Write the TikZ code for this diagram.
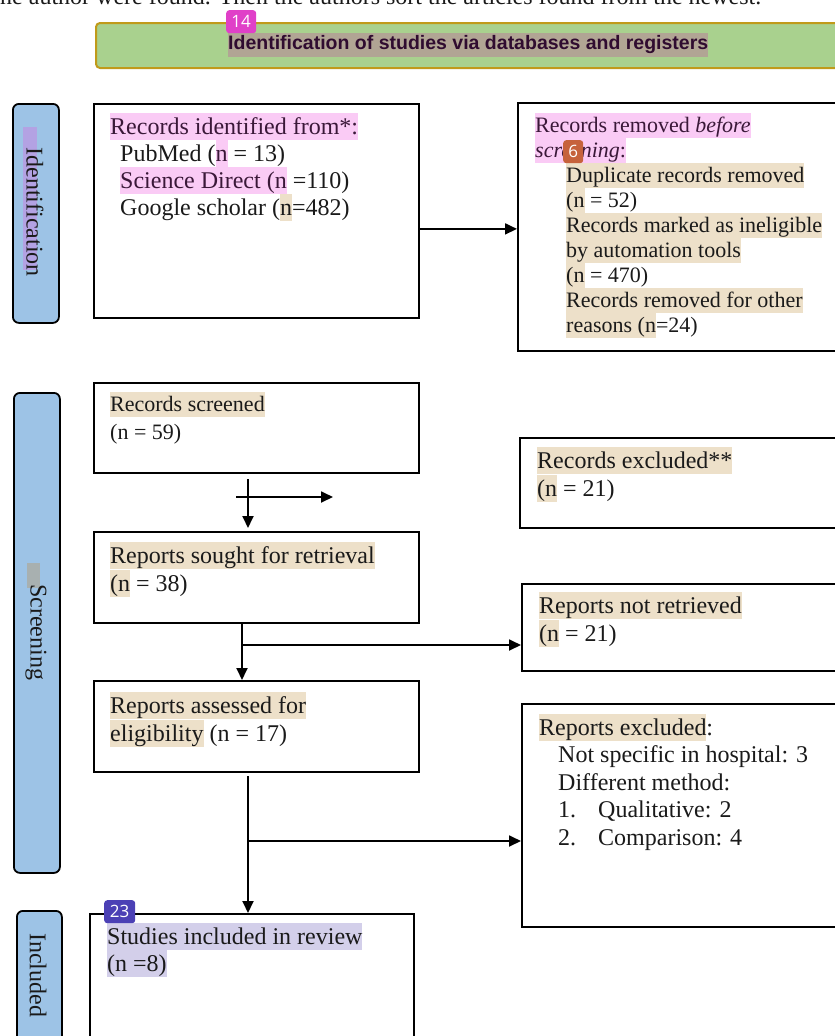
\documentclass[tikz,border=0pt]{standalone}
\usepackage{fontspec}
\setmainfont{Liberation Serif}
\newfontfamily\hdfont{Liberation Sans}
\newfontfamily\bdgfont{Open Sans}
\usetikzlibrary{arrows.meta,calc}
\definecolor{hlpink}{HTML}{FACBF5}
\definecolor{hltan}{HTML}{EDE0C9}
\definecolor{hllav}{HTML}{D3CFEA}
\definecolor{hlpurple}{HTML}{B3A2E3}
\definecolor{hlgray}{HTML}{A8B0B0}
\definecolor{hdgreen}{HTML}{A9D18E}
\definecolor{hdgold}{HTML}{C09A1A}
\definecolor{hdhl}{HTML}{B1A594}
\definecolor{hdtext}{HTML}{300C30}
\definecolor{sideblue}{HTML}{9DC3E6}
\definecolor{bdgmag}{HTML}{E040C8}
\definecolor{bdgorange}{HTML}{C6623C}
\definecolor{bdgindigo}{HTML}{4B40B5}
\definecolor{txt}{HTML}{1A1A1A}
\definecolor{pinktxt}{HTML}{3A1838}
\newcommand\ls{\rule[-0.25em]{0pt}{1.125em}}
\newcommand\hlx[2]{{\setlength{\fboxsep}{0pt}\colorbox{#1}{\ls#2}}}
\newcommand\hlp[1]{{\setlength{\fboxsep}{0pt}\colorbox{hlpink}{\ls\color{pinktxt}#1}}}
\begin{document}
\begin{tikzpicture}[x=1pt,y=-1pt,
  box/.style={draw=black, line width=1.8pt, inner sep=0pt, anchor=north west, fill=white},
  sidebar/.style={draw=black, line width=1.8pt, inner sep=0pt, anchor=north west, fill=sideblue, rounded corners=6pt},
  txtbox/.style={anchor=north west, inner sep=0pt, align=left, text=txt},
  big/.style={font=\fontsize{24}{#1}\selectfont},
  small/.style={font=\fontsize{22}{#1}\selectfont},
  sidetxt/.style={rotate=-90, inner sep=0pt, text=txt, font=\fontsize{24}{27}\selectfont},
  badge/.style={anchor=north west, inner sep=0pt, rounded corners=3pt, text=white, font=\bdgfont\fontsize{17}{17}\selectfont},
  arr/.style={line width=1.8pt, -{Triangle[length=12pt,width=11pt]}},
  ln/.style={line width=1.8pt}
]
\useasboundingbox (0,0) rectangle (835,1036);
\clip (0,0) rectangle (835,1036);

% cut-off line of text at top
\node[anchor=base west, inner sep=0pt, text=txt, font=\fontsize{24}{27}\selectfont] (toptxt) at (0,5)
  {ne author were found. Then the authors sort the articles found from the newest.};

% header
\node[anchor=north west, draw=hdgold, line width=2pt, fill=hdgreen, rounded corners=4pt,
  minimum width=770, minimum height=45, inner sep=0pt] (hdr) at (95,22) {};
\node[anchor=west, inner sep=0pt, fill=hdhl, minimum height=24, text=hdtext,
  font=\hdfont\bfseries\fontsize{19.5}{24}\selectfont] (hdrtxt) at (228,45)
  {Identification of studies via databases and registers};
\node[badge, fill=bdgmag, minimum width=30, minimum height=23] (bdgA) at (226,10) {14};

% side bars
\node[sidebar, minimum width=46, minimum height=219] (sideA) at (12,103) {};
\fill[hlpurple] (23,127) rectangle (37,270);
\node[sidetxt] (sideAtxt) at (35,212) {Identification};
\node[sidebar, minimum width=46, minimum height=480] (sideB) at (13,392) {};
\fill[hlgray] (27,563) rectangle (40,588);
\node[sidetxt] (sideBtxt) at (36,632) {Screening};
\node[sidebar, minimum width=45, minimum height=160] (sideC) at (16,910) {};
\node[sidetxt] (sideCtxt) at (38,975) {Included};

% boxes
\node[box, minimum width=325, minimum height=214] (b1) at (93,103) {};
\node[box, minimum width=330, minimum height=248] (b2) at (517,102) {};
\node[box, minimum width=325, minimum height=90] (b3) at (93,382) {};
\node[box, minimum width=330, minimum height=90] (b4) at (519,437) {};
\node[box, minimum width=325, minimum height=91] (b5) at (93,531) {};
\node[box, minimum width=330, minimum height=87] (b6) at (521,583) {};
\node[box, minimum width=325, minimum height=91] (b7) at (93,680) {};
\node[box, minimum width=330, minimum height=223] (b8) at (521,703) {};
\node[box, minimum width=324, minimum height=160] (b9) at (89,913) {};

% texts
\node[txtbox, big=27] (t1) at (110,113) {%
  \hlp{Records identified from*:}\\
  \ls\hspace*{10pt}PubMed (\hlp{n} = 13)\\
  \ls\hspace*{10pt}\hlp{Science Direct (n} =110)\\
  \ls\hspace*{10pt}Google scholar (\hlx{hltan}{n}=482)};

\node[txtbox, small=25] (t2) at (535,113) {%
  \hlp{Records removed \textit{before}}\\
  \hlp{\textit{screening}:}\\
  \ls\hspace*{31pt}\hlx{hltan}{Duplicate records removed}\\
  \ls\hspace*{31pt}\hlx{hltan}{(n} = 52)\\
  \ls\hspace*{31pt}\hlx{hltan}{Records marked as ineligible}\\
  \ls\hspace*{31pt}\hlx{hltan}{by automation tools}\\
  \ls\hspace*{31pt}\hlx{hltan}{(n} = 470)\\
  \ls\hspace*{31pt}\hlx{hltan}{Records removed for other}\\
  \ls\hspace*{31pt}\hlx{hltan}{reasons (n}=24)};
\node[badge, fill=bdgorange, minimum width=20, minimum height=23] (bdgB) at (563,140) {6};

\node[txtbox, small=28] (t3) at (110,392) {%
  \hlx{hltan}{Records screened}\\
  \ls(n = 59)};

\node[txtbox, big=28] (t4) at (537,447) {%
  \hlx{hltan}{Records excluded**}\\
  \hlx{hltan}{(n} = 21)};

\node[txtbox, big=28] (t5) at (110,542) {%
  \hlx{hltan}{Reports sought for retrieval}\\
  \hlx{hltan}{(n} = 38)};

\node[txtbox, big=28] (t6) at (539,592) {%
  \hlx{hltan}{Reports not retrieved}\\
  \hlx{hltan}{(n} = 21)};

\node[txtbox, big=28] (t7) at (110,692) {%
  \hlx{hltan}{Reports assessed for}\\
  \hlx{hltan}{eligibility} (n = 17)};

\node[txtbox, big=27.5] (t8) at (539,714) {%
  \hlx{hltan}{Reports excluded}:\\
  \ls\hspace*{19pt}Not specific in hospital: 3\\
  \ls\hspace*{19pt}Different method:\\
  \ls\hspace*{19pt}\makebox[40pt][l]{1.}Qualitative: 2\\
  \ls\hspace*{19pt}\makebox[40pt][l]{2.}Comparison: 4};

\node[txtbox, big=27] (t9) at (107,923) {%
  \hlx{hllav}{Studies included in review}\\
  \hlx{hllav}{(n =8)}};
\node[badge, fill=bdgindigo, minimum width=31, minimum height=23] (bdgC) at (104,900) {23};

% connectors
\coordinate (a1) at ($(b1.east)+(0,18)$);
\draw[arr] (a1) -- (a1 -| b2.west);

\coordinate (v1) at (248,479);
\coordinate (v2) at (248,528);
\draw[arr] (v1) -- (v2);
\coordinate (h1) at (236,497);
\coordinate (h2) at (333,497);
\draw[arr] (h1) -- (h2);

\coordinate (c5) at (242,622);
\draw[arr] (c5) -- (c5 |- b7.north);
\coordinate (j5) at (242,645);
\draw[arr] (j5) -- (j5 -| b6.west);

\coordinate (c7) at (248,776);
\draw[arr] (c7) -- (c7 |- b9.north);
\coordinate (j7) at (248,841);
\draw[arr] (j7) -- (j7 -| b8.west);
\end{tikzpicture}
\end{document}
